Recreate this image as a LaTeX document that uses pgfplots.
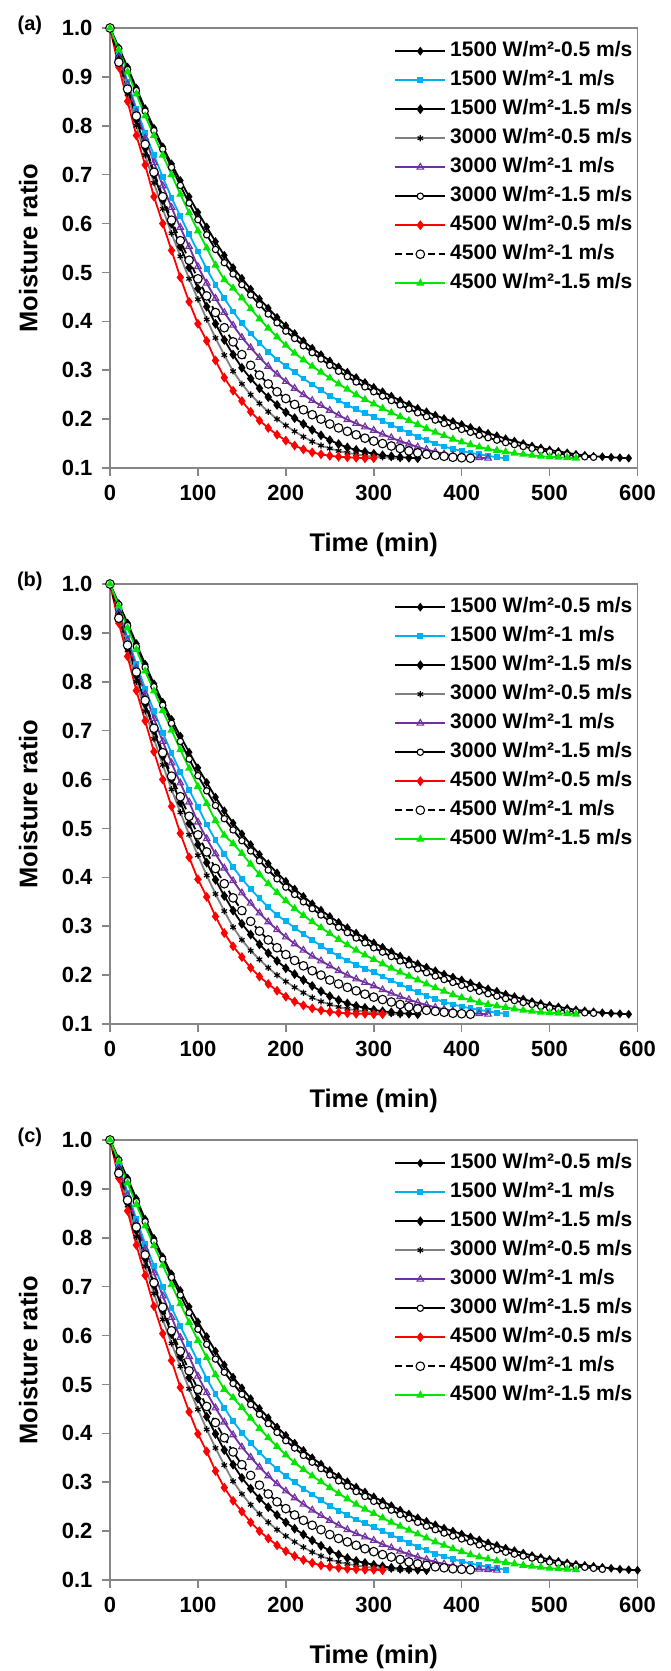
\documentclass[border=0pt]{standalone}
\usepackage{fontspec}
\setmainfont{Liberation Sans}
\usepackage{pgfplots}
\usepackage{pgfplotstable}
\pgfplotsset{compat=1.18}

\definecolor{cblue}{HTML}{00B0F0}
\definecolor{cpurple}{HTML}{7030A0}
\definecolor{cgreen}{HTML}{00E600}
\definecolor{cgray}{HTML}{808080}
\definecolor{axgray}{HTML}{868686}

% columns: s1=1500-0.5, s2=1500-1, s3=1500-1.5, s4=3000-0.5, s5=3000-1, s6=3000-1.5, s7=4500-0.5, s8=4500-1, s9=4500-1.5
\pgfplotstableread{
t s1 s2 s3 s4 s5 s6 s7 s8 s9
0 1 1 1 1 1 1 1 1 1
10 .960 .945 .940 .935 .940 .958 .920 .930 .955
20 .920 .890 .875 .865 .885 .915 .850 .875 .910
30 .877 .835 .812 .800 .828 .872 .780 .820 .865
40 .835 .785 .755 .740 .775 .830 .720 .762 .820
50 .795 .740 .700 .683 .725 .790 .655 .705 .780
60 .757 .695 .648 .630 .677 .752 .600 .655 .740
70 .722 .653 .600 .580 .633 .715 .545 .607 .700
80 .688 .615 .553 .533 .592 .678 .490 .565 .660
90 .655 .578 .510 .487 .553 .642 .440 .525 .622
100 .623 .543 .467 .445 .512 .608 .395 .487 .585
110 .593 .507 .430 .404 .478 .577 .360 .452 .550
120 .563 .475 .395 .366 .447 .547 .320 .418 .515
130 .535 .447 .362 .331 .418 .520 .285 .387 .485
140 .510 .420 .332 .298 .392 .497 .258 .358 .468
150 .488 .396 .305 .272 .367 .475 .237 .332 .448
160 .466 .375 .283 .250 .346 .454 .215 .310 .426
170 .446 .356 .263 .232 .326 .434 .197 .290 .405
180 .427 .338 .245 .215 .308 .415 .182 .272 .386
190 .408 .322 .229 .200 .292 .397 .168 .256 .368
200 .391 .309 .214 .187 .277 .380 .156 .242 .351
210 .375 .296 .202 .175 .263 .365 .146 .230 .335
220 .360 .283 .190 .164 .250 .350 .138 .219 .321
230 .345 .271 .178 .154 .238 .336 .132 .209 .308
240 .332 .259 .167 .146 .228 .323 .128 .200 .296
250 .319 .248 .157 .140 .218 .310 .125 .190 .284
260 .307 .238 .149 .135 .208 .298 .123 .182 .272
270 .296 .229 .142 .131 .199 .287 .122 .175 .261
280 .285 .220 .137 .128 .191 .276 .121 .168 .250
290 .275 .212 .133 .125 .184 .266 .120 .161 .240
300 .265 .205 .129 .123 .177 .256 .120 .155 .231
310 .256 .196 .126 .122 .169 .247 nan .150 .222
320 .247 .188 .124 .121 .162 .238 nan .145 .213
330 .238 .180 .122 .120 .155 .229 nan .140 .205
340 .230 .172 .121 nan .149 .221 nan .135 .197
350 .222 .164 .120 nan .143 .213 nan .131 .189
360 .215 .157 nan nan .138 .205 nan .128 .181
370 .208 .150 nan nan .133 .198 nan .126 .173
380 .201 .144 nan nan .129 .191 nan .124 .166
390 .195 .139 nan nan .126 .185 nan .122 .159
400 .189 .135 nan nan .124 .179 nan .121 .153
410 .183 .131 nan nan .122 .173 nan .120 .148
420 .177 .128 nan nan .121 .167 nan nan .143
430 .171 .125 nan nan .120 .162 nan nan .139
440 .166 .122 nan nan nan .157 nan nan .136
450 .160 .120 nan nan nan .152 nan nan .133
460 .155 nan nan nan nan .148 nan nan .130
470 .150 nan nan nan nan .144 nan nan .128
480 .145 nan nan nan nan .140 nan nan .126
490 .141 nan nan nan nan .136 nan nan .124
500 .137 nan nan nan nan .133 nan nan .123
510 .134 nan nan nan nan .130 nan nan .122
520 .131 nan nan nan nan .127 nan nan .121
530 .128 nan nan nan nan .125 nan nan .120
540 .126 nan nan nan nan .123 nan nan nan
550 .124 nan nan nan nan .122 nan nan nan
560 .123 nan nan nan nan nan nan nan nan
570 .122 nan nan nan nan nan nan nan nan
580 .121 nan nan nan nan nan nan nan nan
590 .120 nan nan nan nan nan nan nan nan
}\tabA

\pgfplotstableread{
t s1 s2 s3 s4 s5 s6 s7 s8 s9
0 1 1 1 1 1 1 1 1 1
10 .960 .945 .940 .935 .940 .958 .920 .930 .955
20 .920 .890 .875 .865 .885 .915 .852 .875 .910
30 .878 .836 .812 .800 .828 .872 .782 .820 .866
40 .836 .786 .755 .740 .775 .830 .720 .762 .822
50 .796 .740 .700 .683 .725 .790 .657 .705 .781
60 .758 .696 .648 .630 .678 .752 .600 .655 .741
70 .723 .654 .600 .580 .634 .715 .545 .607 .701
80 .689 .616 .553 .533 .593 .678 .490 .565 .661
90 .656 .579 .510 .487 .554 .642 .441 .525 .623
100 .624 .544 .467 .445 .513 .608 .396 .487 .586
110 .594 .508 .430 .404 .479 .577 .360 .452 .551
120 .564 .476 .395 .366 .448 .547 .320 .418 .516
130 .536 .448 .362 .331 .419 .520 .286 .387 .486
140 .511 .421 .332 .298 .393 .497 .259 .358 .469
150 .489 .397 .305 .272 .368 .475 .237 .332 .449
160 .467 .376 .283 .250 .347 .454 .215 .310 .427
170 .447 .357 .263 .232 .327 .434 .197 .290 .406
180 .428 .339 .245 .215 .309 .415 .182 .272 .387
190 .409 .323 .229 .200 .293 .397 .168 .256 .369
200 .392 .310 .214 .187 .278 .380 .156 .242 .352
210 .376 .297 .202 .175 .264 .365 .146 .230 .336
220 .361 .284 .190 .164 .251 .350 .138 .219 .322
230 .346 .272 .178 .154 .239 .336 .132 .209 .309
240 .333 .260 .167 .146 .229 .323 .128 .200 .297
250 .320 .249 .157 .140 .219 .310 .125 .190 .285
260 .308 .239 .149 .135 .209 .298 .123 .182 .273
270 .297 .230 .142 .131 .200 .287 .122 .175 .262
280 .286 .221 .137 .128 .192 .276 .121 .168 .251
290 .276 .213 .133 .125 .185 .266 .121 .161 .241
300 .266 .206 .129 .123 .178 .256 .120 .155 .232
310 .257 .197 .126 .122 .170 .247 .120 .150 .223
320 .248 .189 .124 .121 .163 .238 nan .145 .214
330 .239 .181 .122 .120 .156 .229 nan .140 .206
340 .231 .173 .121 nan .150 .221 nan .135 .198
350 .223 .165 .120 nan .144 .213 nan .131 .190
360 .216 .158 nan nan .139 .205 nan .128 .182
370 .209 .151 nan nan .134 .198 nan .126 .174
380 .202 .145 nan nan .130 .191 nan .124 .167
390 .196 .140 nan nan .127 .185 nan .122 .160
400 .190 .136 nan nan .124 .179 nan .121 .154
410 .184 .132 nan nan .122 .173 nan .120 .149
420 .178 .129 nan nan .121 .167 nan nan .144
430 .172 .126 nan nan .120 .162 nan nan .140
440 .167 .123 nan nan nan .157 nan nan .137
450 .161 .121 nan nan nan .152 nan nan .134
460 .156 nan nan nan nan .148 nan nan .131
470 .151 nan nan nan nan .144 nan nan .128
480 .146 nan nan nan nan .140 nan nan .126
490 .142 nan nan nan nan .136 nan nan .124
500 .138 nan nan nan nan .133 nan nan .123
510 .135 nan nan nan nan .130 nan nan .122
520 .132 nan nan nan nan .127 nan nan .121
530 .129 nan nan nan nan .125 nan nan .120
540 .127 nan nan nan nan .123 nan nan nan
550 .125 nan nan nan nan .122 nan nan nan
560 .123 nan nan nan nan nan nan nan nan
570 .122 nan nan nan nan nan nan nan nan
580 .121 nan nan nan nan nan nan nan nan
590 .120 nan nan nan nan nan nan nan nan
}\tabB

\pgfplotstableread{
t s1 s2 s3 s4 s5 s6 s7 s8 s9
0 1 1 1 1 1 1 1 1 1
10 .961 .946 .941 .935 .941 .959 .922 .932 .956
20 .922 .892 .877 .866 .887 .917 .855 .877 .912
30 .880 .838 .815 .802 .830 .874 .785 .822 .868
40 .838 .788 .758 .742 .778 .833 .723 .765 .824
50 .799 .743 .703 .686 .728 .793 .660 .708 .784
60 .761 .699 .651 .633 .681 .756 .604 .658 .744
70 .726 .657 .603 .584 .637 .719 .549 .610 .704
80 .692 .619 .557 .537 .596 .683 .494 .568 .665
90 .659 .583 .514 .491 .557 .647 .444 .528 .627
100 .628 .548 .471 .449 .517 .613 .399 .490 .590
110 .598 .512 .434 .408 .483 .582 .363 .455 .555
120 .568 .480 .399 .370 .452 .552 .323 .422 .520
130 .540 .452 .366 .335 .423 .525 .289 .391 .490
140 .515 .425 .336 .302 .397 .502 .262 .362 .473
150 .493 .401 .309 .276 .372 .480 .240 .336 .453
160 .471 .380 .287 .254 .351 .459 .218 .314 .431
170 .451 .361 .267 .235 .331 .439 .200 .294 .410
180 .432 .343 .249 .218 .313 .420 .185 .276 .391
190 .413 .327 .233 .203 .297 .402 .171 .260 .373
200 .396 .313 .218 .190 .282 .385 .159 .246 .356
210 .380 .300 .205 .178 .268 .370 .149 .233 .340
220 .365 .287 .193 .167 .255 .355 .141 .222 .326
230 .350 .275 .181 .157 .243 .341 .135 .212 .313
240 .337 .263 .170 .149 .232 .328 .130 .203 .301
250 .324 .252 .160 .142 .222 .315 .127 .193 .289
260 .312 .242 .152 .137 .212 .303 .125 .185 .277
270 .301 .233 .145 .133 .203 .292 .123 .178 .266
280 .290 .224 .139 .130 .195 .281 .122 .171 .255
290 .280 .216 .135 .127 .188 .271 .121 .164 .245
300 .270 .208 .131 .125 .181 .261 .121 .158 .236
310 .261 .200 .128 .123 .173 .252 .120 .152 .227
320 .252 .192 .125 .122 .166 .243 nan .147 .218
330 .243 .184 .123 .121 .159 .234 nan .142 .210
340 .235 .176 .122 .120 .153 .226 nan .137 .202
350 .227 .168 .121 nan .147 .218 nan .133 .194
360 .220 .161 .120 nan .142 .210 nan .130 .186
370 .213 .154 nan nan .137 .203 nan .127 .178
380 .206 .148 nan nan .133 .196 nan .125 .171
390 .200 .143 nan nan .129 .190 nan .123 .164
400 .194 .138 nan nan .126 .184 nan .122 .158
410 .188 .134 nan nan .124 .178 nan .121 .152
420 .182 .130 nan nan .122 .172 nan nan .147
430 .176 .127 nan nan .121 .167 nan nan .143
440 .171 .124 nan nan .120 .162 nan nan .139
450 .165 .121 nan nan nan .157 nan nan .136
460 .160 nan nan nan nan .153 nan nan .133
470 .155 nan nan nan nan .149 nan nan .130
480 .150 nan nan nan nan .145 nan nan .128
490 .146 nan nan nan nan .141 nan nan .126
500 .142 nan nan nan nan .137 nan nan .124
510 .138 nan nan nan nan .134 nan nan .123
520 .135 nan nan nan nan .131 nan nan .122
530 .132 nan nan nan nan .128 nan nan .121
540 .130 nan nan nan nan .126 nan nan nan
550 .128 nan nan nan nan .124 nan nan nan
560 .126 nan nan nan nan .122 nan nan nan
570 .124 nan nan nan nan nan nan nan nan
580 .122 nan nan nan nan nan nan nan nan
590 .121 nan nan nan nan nan nan nan nan
600 .120 nan nan nan nan nan nan nan nan
}\tabC

\pgfplotsset{
  mrpanel/.style={
    scale only axis, width=527.5pt, height=440pt,
    xmin=0, xmax=600, ymin=0.1, ymax=1.0,
    xtick={0,100,200,300,400,500,600},
    ytick={0.1,0.2,0.3,0.4,0.5,0.6,0.7,0.8,0.9,1.0},
    clip=false,
    axis line style={axgray, line width=1.5pt},
    tick style={axgray, line width=1.5pt},
    tick align=outside, tick pos=left, major tick length=8pt,
    ticklabel style={font=\bfseries\fontsize{22pt}{24pt}\selectfont},
    /pgf/number format/assume math mode=true,
    yticklabel style={/pgf/number format/.cd, fixed, fixed zerofill, precision=1, /tikz/.cd, xshift=-6pt},
    xticklabel style={yshift=-6pt},
    xlabel={Time (min)}, ylabel={Moisture ratio},
    label style={font=\bfseries\fontsize{25.5pt}{27pt}\selectfont},
    xlabel style={at={(axis description cs:0.5,-0.175)}, anchor=center},
    ylabel style={at={(axis description cs:-0.155,0.5)}, anchor=center},
    legend cell align=left,
    legend image code/.code={\draw[mark repeat=2,mark phase=2,#1] plot coordinates {(0pt,0pt) (25pt,0pt) (50pt,0pt)};},
    legend style={draw=none, fill=none, at={(rel axis cs:1,1)}, anchor=north east,
      xshift=-5pt, yshift=-13pt, inner sep=0pt, row sep=9pt, column sep=4pt,
      font=\bfseries\fontsize{21pt}{22pt}\selectfont,
      nodes={inner sep=0pt, text height=15pt, text depth=5pt}},
    every axis plot/.append style={line width=1.8pt},
  },
  p1/.style={black, mark=diamond*, mark size=3pt},
  p2/.style={cblue, mark=square*, mark size=2pt},
  p3/.style={black, mark=diamond*, mark size=3.5pt},
  p4/.style={cgray, mark=asterisk, mark size=3.2pt, mark options={black, line width=1.2pt}},
  p5/.style={cpurple, mark=triangle, mark size=3.8pt, mark options={fill=white, line width=1.1pt}},
  p6/.style={black, mark=*, mark size=3.2pt, mark options={fill=white, line width=1.1pt}},
  p7/.style={red, mark=diamond*, mark size=3.5pt},
  p8/.style={black, dash pattern=on 7pt off 4pt, mark=*, mark size=4.3pt, mark options={solid, fill=white, line width=1.1pt}},
  p9/.style={cgreen, mark=triangle*, mark size=3pt},
}

\newcommand{\allplots}[1]{%
  \addplot[p1] table[x=t,y=s1]{#1}; \addlegendentry{1500 W/m²-0.5 m/s}
  \addplot[p2] table[x=t,y=s2]{#1}; \addlegendentry{1500 W/m²-1 m/s}
  \addplot[p3] table[x=t,y=s3]{#1}; \addlegendentry{1500 W/m²-1.5 m/s}
  \addplot[p4] table[x=t,y=s4]{#1}; \addlegendentry{3000 W/m²-0.5 m/s}
  \addplot[p5] table[x=t,y=s5]{#1}; \addlegendentry{3000 W/m²-1 m/s}
  \addplot[p6] table[x=t,y=s6]{#1}; \addlegendentry{3000 W/m²-1.5 m/s}
  \addplot[p7] table[x=t,y=s7]{#1}; \addlegendentry{4500 W/m²-0.5 m/s}
  \addplot[p8] table[x=t,y=s8]{#1}; \addlegendentry{4500 W/m²-1 m/s}
  \addplot[p9] table[x=t,y=s9]{#1}; \addlegendentry{4500 W/m²-1.5 m/s}
}

\begin{document}
\begin{tikzpicture}
\path[use as bounding box] (0pt,0pt) rectangle (670pt,-1671pt);

\begin{axis}[mrpanel, at={(110pt,-468pt)}, anchor=south west]
\allplots{\tabA}
\node[font=\bfseries\fontsize{20pt}{20pt}\selectfont] at (rel axis cs:-0.152,1.005) {(a)};
\end{axis}

\begin{axis}[mrpanel, at={(110pt,-1024pt)}, anchor=south west]
\allplots{\tabB}
\node[font=\bfseries\fontsize{20pt}{20pt}\selectfont] at (rel axis cs:-0.152,1.005) {(b)};
\end{axis}

\begin{axis}[mrpanel, at={(110pt,-1580pt)}, anchor=south west]
\allplots{\tabC}
\node[font=\bfseries\fontsize{20pt}{20pt}\selectfont] at (rel axis cs:-0.152,1.005) {(c)};
\end{axis}
\end{tikzpicture}
\end{document}
